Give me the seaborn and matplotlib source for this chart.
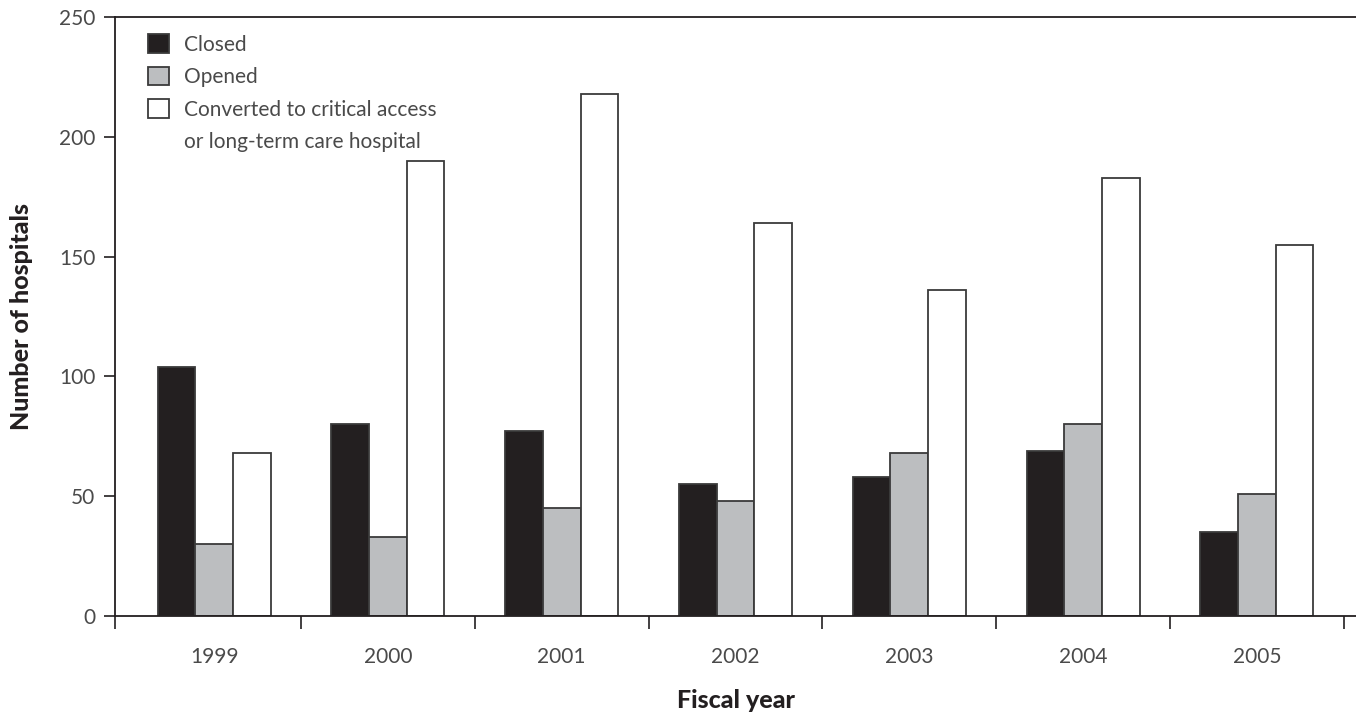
import pandas as pd
import matplotlib.pyplot as plt
import matplotlib.patches as mpatches
import seaborn as sns

years = ["1999", "2000", "2001", "2002", "2003", "2004", "2005"]
closed = [104, 80, 77, 55, 58, 69, 35]
opened = [30, 33, 45, 48, 68, 80, 51]
converted = [68, 190, 218, 164, 136, 183, 155]

groups = ["Closed", "Opened", "Converted to critical access"]
conv_line2 = "or long-term care hospital"

df = pd.DataFrame({
    "year": years * 3,
    "count": closed + opened + converted,
    "status": [groups[0]] * 7 + [groups[1]] * 7 + [groups[2]] * 7,
})

sns.set_style("white")
plt.rcParams["font.family"] = ["Lato", "DejaVu Sans"]

fig = plt.figure(figsize=(13.56, 7.17), dpi=100)
ax = fig.add_axes([0.0848, 0.1409, 0.9152, 0.8354])

palette = {groups[0]: "#231f20", groups[1]: "#bcbec0", groups[2]: "#ffffff"}
sns.barplot(data=df, x="year", y="count", hue="status", order=years,
            hue_order=groups, palette=palette, width=0.65, gap=0,
            edgecolor="#3a3a3a", linewidth=1.3, saturation=1, ax=ax)

ax.set_ylim(0, 250)
ax.set_xlim(-0.57, 6.57)
ax.set_yticks([0, 50, 100, 150, 200, 250])

ax.spines["right"].set_visible(False)
for s in ["left", "top", "bottom"]:
    ax.spines[s].set_color("#231f20")
    ax.spines[s].set_linewidth(1.3)

txt = "#4a4a4a"
ax.tick_params(axis="y", direction="out", length=8, width=1.2, color="#231f20",
               labelsize=15, labelcolor=txt, pad=6, left=True)
ax.tick_params(axis="x", which="major", length=0, labelsize=15,
               labelcolor=txt, pad=22)
ax.set_xticks([-0.57, 0.5, 1.5, 2.5, 3.5, 4.5, 5.5, 6.5], minor=True)
ax.tick_params(axis="x", which="minor", direction="out", length=9, width=1.2,
               color="#231f20", bottom=True)

ax.set_xlabel("Fiscal year", fontsize=18, fontweight="black", color="#231f20")
ax.xaxis.set_label_coords(0.5, -0.122)
ax.set_ylabel("Number of hospitals", fontsize=18, fontweight="black",
              color="#231f20")
ax.yaxis.set_label_coords(-0.066, 0.5)

handles, labels = ax.get_legend_handles_labels()
blank = mpatches.Patch(facecolor="none", edgecolor="none")
leg = ax.legend(handles + [blank], labels + [conv_line2], loc="upper left",
                bbox_to_anchor=(0.02, 0.985), frameon=False,
                fontsize=15, handlelength=1.0, handleheight=1.0,
                handletextpad=0.7, labelspacing=0.58, borderaxespad=0)
for t in leg.get_texts():
    t.set_color(txt)
for h in leg.legend_handles[:3]:
    h.set_edgecolor("#3a3a3a")
    h.set_linewidth(1.3)

fig.savefig("out.png", dpi=100)
